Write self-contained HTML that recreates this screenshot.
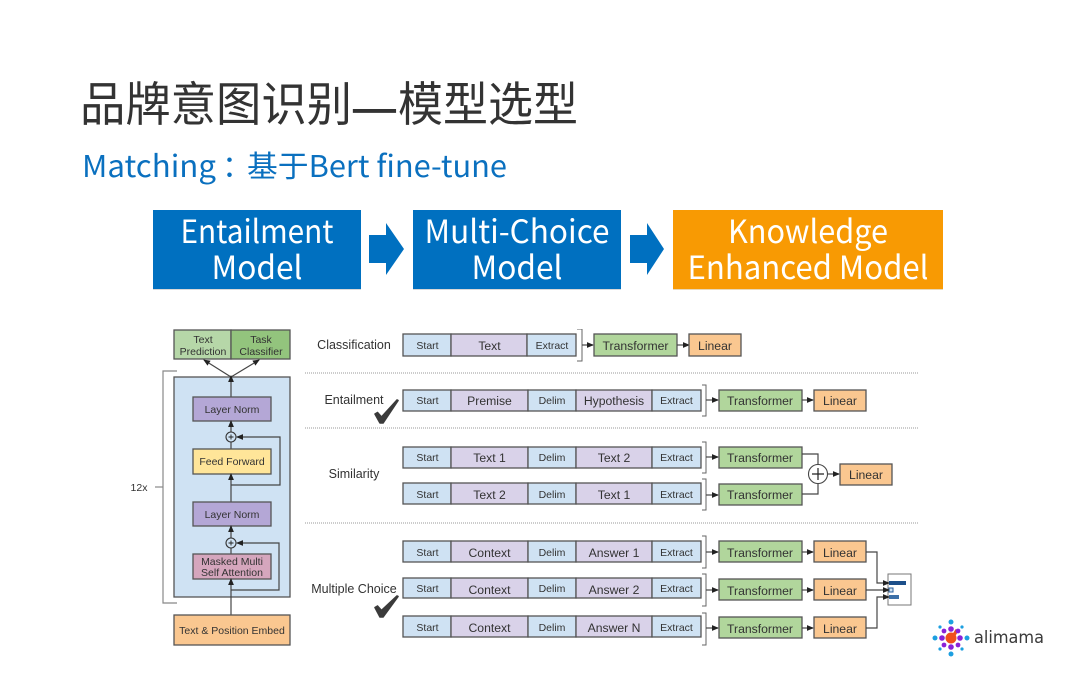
<!DOCTYPE html>
<html lang="zh">
<head>
<meta charset="utf-8">
<title>品牌意图识别—模型选型</title>
<style>
html,body{margin:0;padding:0;background:#fff;width:1080px;height:675px;overflow:hidden}
svg{display:block}
.sans{font-family:"Liberation Sans","Noto Sans CJK SC",sans-serif}
.cjk{font-family:"Noto Sans CJK SC","Liberation Sans",sans-serif}
text{text-anchor:middle;dominant-baseline:auto}
.s{font-size:10.5px;fill:#333}
.m{font-size:12.2px;fill:#333}
.b{stroke:#555;stroke-width:1.3}
.blue{fill:#cfe2f3}.pur{fill:#d9d2e9}.grn{fill:#b1d69c}.org{fill:#fac790}
.ln{fill:none;stroke:#444;stroke-width:1.2}
.w{font-size:32px;fill:#fff}
.t{text-anchor:start;font-size:47px;font-weight:400;fill:#333}
</style>
</head>
<body>
<svg width="1080" height="675" viewBox="0 0 1080 675" xmlns="http://www.w3.org/2000/svg">
<defs>
<marker id="a" markerWidth="7" markerHeight="7" refX="6" refY="3.5" orient="auto" markerUnits="userSpaceOnUse"><path d="M0 0.6L7 3.5L0 6.4z" fill="#222"/></marker>
<filter id="bl" x="0" y="0" width="100%" height="100%"><feGaussianBlur stdDeviation="0.35"/></filter>
</defs>

<text class="cjk t" x="80" y="121" textLength="272" lengthAdjust="spacingAndGlyphs">品牌意图识别</text>
<text class="cjk t" x="351" y="124" stroke="#333" stroke-width="1" textLength="47" lengthAdjust="spacingAndGlyphs">—</text>
<text class="cjk t" x="398" y="121" textLength="180" lengthAdjust="spacingAndGlyphs">模型选型</text>
<text class="cjk" x="82" y="177" style="text-anchor:start;font-size:30px;fill:#0a70bf" textLength="134" lengthAdjust="spacingAndGlyphs">Matching</text>
<text class="cjk" x="222" y="177" style="text-anchor:start;font-size:30px;fill:#0a70bf">：</text>
<text class="cjk" x="247" y="177" style="text-anchor:start;font-size:30px;fill:#0a70bf" textLength="260" lengthAdjust="spacingAndGlyphs">基于Bert fine-tune</text>

<rect x="153" y="211" width="208" height="79" fill="#d8d8d8"/>
<rect x="413" y="211" width="208" height="79" fill="#d8d8d8"/>
<rect x="673" y="211" width="270" height="79" fill="#e8d8b8"/>
<rect x="153" y="210" width="208" height="79" fill="#0070c0"/>
<rect x="413" y="210" width="208" height="79" fill="#0070c0"/>
<rect x="673" y="210" width="270" height="79" fill="#f89a03"/>
<path d="M369 235H386V223L404 249L386 275V263H369z" fill="#0070c0"/>
<path d="M630 235H647V223L664 249L647 275V263H630z" fill="#0070c0"/>
<text class="cjk w" x="257" y="243" textLength="153" lengthAdjust="spacingAndGlyphs">Entailment</text>
<text class="cjk w" x="257" y="279" textLength="91" lengthAdjust="spacingAndGlyphs">Model</text>
<text class="cjk w" x="517" y="243" textLength="185" lengthAdjust="spacingAndGlyphs">Multi-Choice</text>
<text class="cjk w" x="517" y="279" textLength="91" lengthAdjust="spacingAndGlyphs">Model</text>
<text class="cjk w" x="808" y="243" textLength="160" lengthAdjust="spacingAndGlyphs">Knowledge</text>
<text class="cjk w" x="808" y="279" textLength="241" lengthAdjust="spacingAndGlyphs">Enhanced Model</text>

<g class="sans" filter="url(#bl)">
<!-- left architecture -->
<rect x="174" y="330" width="57" height="29" fill="#b6d7a8" class="b"/>
<rect x="231" y="330" width="59" height="29" fill="#93c47d" class="b"/>
<text class="s" x="203" y="343">Text</text><text class="s" x="203" y="355">Prediction</text>
<text class="s" x="261" y="343">Task</text><text class="s" x="261" y="355">Classifier</text>
<path d="M231 377L204 360" class="ln" stroke-width="1.4" marker-end="url(#a)"/>
<path d="M231 377L259 360" class="ln" stroke-width="1.4" marker-end="url(#a)"/>
<path d="M177 371H163V603H177" fill="none" stroke="#888" stroke-width="1.2"/>
<path d="M155 487H163" stroke="#888" stroke-width="1.2"/>
<text class="s" x="139" y="491">12x</text>
<rect x="174" y="377" width="116" height="220" fill="#cfe2f3" class="b"/>
<path d="M231 397V376" class="ln" marker-end="url(#a)"/>
<rect x="193" y="397" width="78" height="24" fill="#b4a7d6" class="b"/>
<text class="s" x="232" y="413">Layer Norm</text>
<path d="M231 432V421" class="ln" marker-end="url(#a)"/>
<path d="M231 449V442" class="ln"/>
<circle cx="231" cy="437" r="5" fill="#cfe2f3" stroke="#333" stroke-width="1.1"/>
<path d="M231 434.5V439.5M228.5 437H233.5" stroke="#222" stroke-width="0.9"/>
<rect x="193" y="449" width="78" height="25" fill="#ffe599" class="b"/>
<text class="s" x="232" y="465">Feed Forward</text>
<path d="M231 502V474" class="ln" marker-end="url(#a)"/>
<path d="M231 485H280V437H237" class="ln" marker-end="url(#a)"/>
<rect x="193" y="502" width="78" height="24" fill="#b4a7d6" class="b"/>
<text class="s" x="232" y="518">Layer Norm</text>
<path d="M231 538V526" class="ln" marker-end="url(#a)"/>
<path d="M231 554V548" class="ln"/>
<circle cx="231" cy="543" r="5" fill="#cfe2f3" stroke="#333" stroke-width="1.1"/>
<path d="M231 540.5V545.5M228.5 543H233.5" stroke="#222" stroke-width="0.9"/>
<rect x="193" y="554" width="78" height="25" fill="#d5a6bd" class="b"/>
<text class="s" x="232" y="565">Masked Multi</text>
<text class="s" x="232" y="576">Self Attention</text>
<path d="M231 615V579" class="ln" marker-end="url(#a)"/>
<path d="M231 590H279V543H237" class="ln" marker-end="url(#a)"/>
<rect x="174" y="615" width="116" height="30" fill="#fac790" class="b"/>
<text class="s" x="232" y="634">Text &amp; Position Embed</text>

<!-- separators -->
<path d="M305 373H918M305 428H918M305 523H918" stroke="#999" stroke-width="1" stroke-dasharray="1 1"/>

<!-- labels -->
<text x="354" y="349" style="font-size:12.5px;fill:#333">Classification</text>
<text x="354" y="404" style="font-size:12.5px;fill:#333">Entailment</text>
<text x="354" y="478" style="font-size:12.5px;fill:#333">Similarity</text>
<text x="354" y="593" style="font-size:12.5px;fill:#333">Multiple Choice</text>
<path d="M375 414L377.5 412.5L381.5 417L397 400L398 400.5L383 423H380z" fill="#3a3a3a" stroke="#3a3a3a" stroke-width="1.6" stroke-linejoin="round"/>
<path d="M375 607.5L377.5 606L381.5 610.5L397 596L398 596.5L383 617H380z" fill="#3a3a3a" stroke="#3a3a3a" stroke-width="1.6" stroke-linejoin="round"/>

<!-- classification -->
<rect x="403" y="334" width="48" height="22" class="blue b"/>
<rect x="451" y="334" width="76" height="22" class="pur b"/>
<rect x="527" y="334" width="49" height="22" class="blue b"/>
<text class="s" x="427.5" y="349">Start</text><text class="m" x="489.5" y="350">Text</text><text class="s" x="552" y="349">Extract</text>
<path d="M577 329H582V361H577" fill="none" stroke="#666" stroke-width="1"/>
<path d="M582 345H593" class="ln" marker-end="url(#a)"/>
<rect x="594" y="334" width="83" height="22" class="grn b"/>
<text class="m" x="635.5" y="350">Transformer</text>
<path d="M677 345H689" class="ln" marker-end="url(#a)"/>
<rect x="689" y="334" width="52" height="22" class="org b"/>
<text class="m" x="715" y="350">Linear</text>

<!-- entailment -->
<rect x="403" y="390" width="48" height="21" class="blue b"/>
<rect x="451" y="390" width="77" height="21" class="pur b"/>
<rect x="528" y="390" width="48" height="21" class="blue b"/>
<rect x="576" y="390" width="76" height="21" class="pur b"/>
<rect x="652" y="390" width="49" height="21" class="blue b"/>
<text class="s" x="427.5" y="404">Start</text><text class="m" x="489.5" y="405">Premise</text><text class="s" x="552" y="404">Delim</text><text class="m" x="614" y="405">Hypothesis</text><text class="s" x="676.5" y="404">Extract</text>
<path d="M702 385H706V416H702" fill="none" stroke="#666" stroke-width="1"/>
<path d="M706 400H718" class="ln" marker-end="url(#a)"/>
<rect x="719" y="390" width="83" height="21" class="grn b"/>
<text class="m" x="760" y="405">Transformer</text>
<path d="M802 400H813" class="ln" marker-end="url(#a)"/>
<rect x="814" y="390" width="52" height="21" class="org b"/>
<text class="m" x="840" y="405">Linear</text>

<!-- similarity 1 -->
<rect x="403" y="447" width="48" height="21" class="blue b"/>
<rect x="451" y="447" width="77" height="21" class="pur b"/>
<rect x="528" y="447" width="48" height="21" class="blue b"/>
<rect x="576" y="447" width="76" height="21" class="pur b"/>
<rect x="652" y="447" width="49" height="21" class="blue b"/>
<text class="s" x="427.5" y="461">Start</text><text class="m" x="489.5" y="462">Text 1</text><text class="s" x="552" y="461">Delim</text><text class="m" x="614" y="462">Text 2</text><text class="s" x="676.5" y="461">Extract</text>
<path d="M702 442H706V473H702" fill="none" stroke="#666" stroke-width="1"/>
<path d="M706 457H718" class="ln" marker-end="url(#a)"/>
<rect x="719" y="447" width="83" height="21" class="grn b"/>
<text class="m" x="760" y="462">Transformer</text>

<!-- similarity 2 -->
<rect x="403" y="483" width="48" height="21" class="blue b"/>
<rect x="451" y="483" width="77" height="21" class="pur b"/>
<rect x="528" y="483" width="48" height="21" class="blue b"/>
<rect x="576" y="483" width="76" height="21" class="pur b"/>
<rect x="652" y="483" width="49" height="21" class="blue b"/>
<text class="s" x="427.5" y="498">Start</text><text class="m" x="489.5" y="499">Text 2</text><text class="s" x="552" y="498">Delim</text><text class="m" x="614" y="499">Text 1</text><text class="s" x="676.5" y="498">Extract</text>
<path d="M702 479H706V510H702" fill="none" stroke="#666" stroke-width="1"/>
<path d="M706 495H718" class="ln" marker-end="url(#a)"/>
<rect x="719" y="484" width="83" height="21" class="grn b"/>
<text class="m" x="760" y="499">Transformer</text>
<path d="M802 454H818V465M802 494H818V483" class="ln"/>
<circle cx="818" cy="474" r="9.5" fill="#fff" stroke="#444" stroke-width="1.1"/>
<path d="M818 468V480M812 474H824" stroke="#222" stroke-width="1.2"/>
<path d="M828 474H839" class="ln" marker-end="url(#a)"/>
<rect x="840" y="464" width="52" height="21" class="org b"/>
<text class="m" x="866" y="479">Linear</text>

<!-- multiple choice rows -->
<rect x="403" y="541" width="48" height="21" class="blue b"/>
<rect x="451" y="541" width="77" height="21" class="pur b"/>
<rect x="528" y="541" width="48" height="21" class="blue b"/>
<rect x="576" y="541" width="76" height="21" class="pur b"/>
<rect x="652" y="541" width="49" height="21" class="blue b"/>
<text class="s" x="427.5" y="556">Start</text><text class="m" x="489.5" y="557">Context</text><text class="s" x="552" y="556">Delim</text><text class="m" x="614" y="557">Answer 1</text><text class="s" x="676.5" y="556">Extract</text>
<path d="M702 536H706V568H702" fill="none" stroke="#666" stroke-width="1"/>
<path d="M706 552H718" class="ln" marker-end="url(#a)"/>
<rect x="719" y="541" width="83" height="21" class="grn b"/>
<text class="m" x="760" y="557">Transformer</text>
<path d="M802 552H813" class="ln" marker-end="url(#a)"/>
<rect x="814" y="541" width="52" height="21" class="org b"/>
<text class="m" x="840" y="557">Linear</text>

<rect x="403" y="578" width="48" height="20" class="blue b"/>
<rect x="451" y="578" width="77" height="20" class="pur b"/>
<rect x="528" y="578" width="48" height="20" class="blue b"/>
<rect x="576" y="578" width="76" height="20" class="pur b"/>
<rect x="652" y="578" width="49" height="20" class="blue b"/>
<text class="s" x="427.5" y="592">Start</text><text class="m" x="489.5" y="594">Context</text><text class="s" x="552" y="592">Delim</text><text class="m" x="614" y="594">Answer 2</text><text class="s" x="676.5" y="592">Extract</text>
<path d="M702 574H706V606H702" fill="none" stroke="#666" stroke-width="1"/>
<path d="M706 590H718" class="ln" marker-end="url(#a)"/>
<rect x="719" y="579" width="83" height="21" class="grn b"/>
<text class="m" x="760" y="595">Transformer</text>
<path d="M802 590H813" class="ln" marker-end="url(#a)"/>
<rect x="814" y="579" width="52" height="21" class="org b"/>
<text class="m" x="840" y="595">Linear</text>

<rect x="403" y="616" width="48" height="21" class="blue b"/>
<rect x="451" y="616" width="77" height="21" class="pur b"/>
<rect x="528" y="616" width="48" height="21" class="blue b"/>
<rect x="576" y="616" width="76" height="21" class="pur b"/>
<rect x="652" y="616" width="49" height="21" class="blue b"/>
<text class="s" x="427.5" y="631">Start</text><text class="m" x="489.5" y="632">Context</text><text class="s" x="552" y="631">Delim</text><text class="m" x="614" y="632">Answer N</text><text class="s" x="676.5" y="631">Extract</text>
<path d="M702 613H706V645H702" fill="none" stroke="#666" stroke-width="1"/>
<path d="M706 628H718" class="ln" marker-end="url(#a)"/>
<rect x="719" y="617" width="83" height="21" class="grn b"/>
<text class="m" x="760" y="633">Transformer</text>
<path d="M802 628H813" class="ln" marker-end="url(#a)"/>
<rect x="814" y="617" width="52" height="21" class="org b"/>
<text class="m" x="840" y="633">Linear</text>

<!-- outputs -->
<rect x="888" y="574" width="23" height="31" fill="#fff" stroke="#777" stroke-width="1"/>
<rect x="889" y="581" width="17" height="4" fill="#1c4f8a"/>
<rect x="889" y="588" width="4" height="4" fill="#cfe2f3" stroke="#2a5f9c"/>
<rect x="889" y="595" width="10" height="4" fill="#3d6fa8"/>
<path d="M866 552H877V583H889" class="ln" marker-end="url(#a)"/>
<path d="M866 590H889" class="ln" marker-end="url(#a)"/>
<path d="M866 628H877V597H889" class="ln" marker-end="url(#a)"/>

<!-- logo -->
<g>
<circle cx="951" cy="638" r="5.5" fill="#f0501e"/>
<path d="M951 640L957 630" stroke="#f0501e" stroke-width="3.4"/>
<g fill="#8a22d8">
<circle cx="951" cy="629" r="2.8"/><circle cx="951" cy="647" r="2.8"/><circle cx="942" cy="638" r="2.8"/><circle cx="960" cy="638" r="2.8"/>
<circle cx="944" cy="631" r="2.4"/><circle cx="958" cy="631" r="2.4"/><circle cx="944" cy="645" r="2.4"/><circle cx="958" cy="645" r="2.4"/>
</g>
<g fill="#1e9fe0">
<circle cx="951" cy="622" r="2.5"/><circle cx="951" cy="654" r="2.5"/><circle cx="935" cy="638" r="2.5"/><circle cx="967" cy="638" r="2.5"/>
<circle cx="940" cy="627" r="1.6"/><circle cx="962" cy="627" r="1.6"/><circle cx="940" cy="649" r="1.6"/><circle cx="962" cy="649" r="1.6"/>
</g>
<text x="1009" y="643" style="font-family:'DejaVu Sans',sans-serif;font-size:16.5px;fill:#3a3a3a" textLength="70" lengthAdjust="spacingAndGlyphs">alimama</text>
</g>
</g>
</svg>
</body>
</html>
